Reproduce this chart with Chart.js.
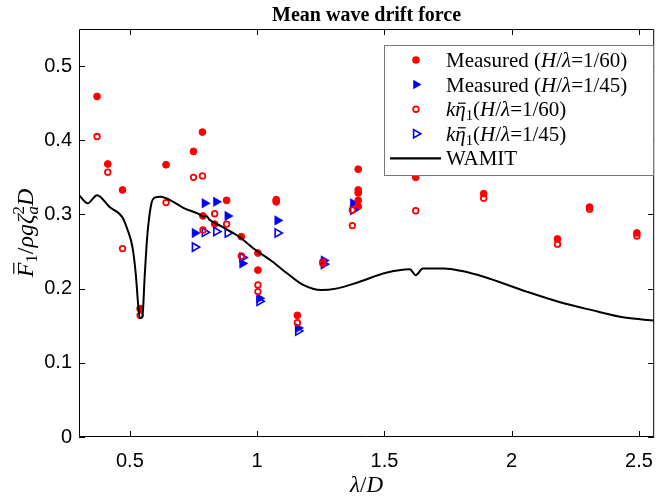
<!DOCTYPE html>
<html>
<head>
<meta charset="utf-8">
<script src="https://cdn.jsdelivr.net/npm/chart.js"></script>
<style>
  html, body { margin: 0; padding: 0; background: #fff; }
  #wrap { width: 665px; height: 500px; }
</style>
</head>
<body>
<div id="wrap"><canvas id="chart"></canvas></div>
<script>
// values
const xTicks = [0.5, 1, 1.5, 2, 2.5];
const yTicks = [0, 0.1, 0.2, 0.3, 0.4, 0.5];

// Measured, H/lambda = 1/60 (filled red circles)
const meas60X = [0.371, 0.413, 0.471, 0.540, 0.642, 0.750, 0.785, 0.787, 0.833, 0.880, 0.938, 1.003, 1.003, 1.075, 1.075, 1.158, 1.258, 1.397, 1.397, 1.397, 1.397, 1.397, 1.623, 1.890, 2.180, 2.306, 2.492];
const meas60Y = [0.459, 0.368, 0.333, 0.173, 0.367, 0.385, 0.411, 0.298, 0.287, 0.319, 0.270, 0.248, 0.225, 0.320, 0.317, 0.164, 0.236, 0.361, 0.333, 0.329, 0.319, 0.311, 0.350, 0.328, 0.267, 0.310, 0.275];

// Measured, H/lambda = 1/45 (filled blue triangles)
const meas45X = [0.755, 0.794, 0.839, 0.884, 0.942, 1.009, 1.080, 1.161, 1.262, 1.377];
const meas45Y = [0.275, 0.315, 0.317, 0.298, 0.234, 0.187, 0.292, 0.147, 0.238, 0.315];

// k*eta1, H/lambda = 1/60 (open red circles)
const eta60X = [0.371, 0.413, 0.471, 0.540, 0.642, 0.750, 0.785, 0.787, 0.833, 0.880, 0.938, 1.003, 1.003, 1.075, 1.158, 1.258, 1.374, 1.374, 1.623, 1.890, 2.180, 2.306, 2.492];
const eta60Y = [0.405, 0.357, 0.254, 0.164, 0.316, 0.350, 0.352, 0.279, 0.301, 0.287, 0.244, 0.205, 0.196, 0.318, 0.154, 0.234, 0.306, 0.285, 0.305, 0.322, 0.260, 0.307, 0.271];

// k*eta1, H/lambda = 1/45 (open blue triangles)
const eta45X = [0.755, 0.794, 0.839, 0.884, 0.942, 1.009, 1.080, 1.161, 1.262, 1.377];
const eta45Y = [0.256, 0.276, 0.277, 0.275, 0.242, 0.183, 0.275, 0.143, 0.233, 0.306];

// WAMIT curve
const wamitX = [0.30, 0.334, 0.371, 0.42, 0.471, 0.491, 0.510, 0.523, 0.533, 0.539, 0.549, 0.558, 0.568, 0.584, 0.600, 0.620, 0.671, 0.710, 0.768, 0.790, 0.800, 0.813, 0.865, 0.929, 0.994, 1.058, 1.116, 1.181, 1.252, 1.310, 1.400, 1.503, 1.600, 1.623, 1.651, 1.735, 1.800, 1.890, 2.058, 2.187, 2.315, 2.444, 2.56];
const wamitY = [0.326, 0.315, 0.326, 0.310, 0.296, 0.279, 0.256, 0.220, 0.176, 0.160, 0.162, 0.216, 0.270, 0.314, 0.323, 0.324, 0.317, 0.309, 0.301, 0.297, 0.298, 0.293, 0.283, 0.270, 0.252, 0.237, 0.221, 0.205, 0.198, 0.200, 0.209, 0.221, 0.226, 0.218, 0.227, 0.227, 0.224, 0.216, 0.196, 0.182, 0.171, 0.161, 0.157];

const pts = (xs, ys) => xs.map((x, i) => ({ x: x, y: ys[i] }));

const RED = '#ff0000';
const BLUE = '#0000ff';
const SERIF = '"Liberation Serif", "DejaVu Serif", serif';
const SANS = '"Liberation Sans", Arial, sans-serif';

// draw a run of text pieces (italic, scaled, shifted, overbar)
function richWidth(ctx, segs, size) {
  let w = 0;
  segs.forEach(s => {
    ctx.font = (s.i ? 'italic ' : '') + (size * (s.s || 1)) + 'px ' + SERIF;
    const sw = ctx.measureText(s.t).width;
    if (!s.noAdv) w += sw;
  });
  return w;
}
function drawRich(ctx, segs, x, y, size) {
  let cx = x;
  segs.forEach(s => {
    const sz = size * (s.s || 1);
    ctx.font = (s.i ? 'italic ' : '') + sz + 'px ' + SERIF;
    ctx.textAlign = 'left';
    ctx.textBaseline = 'alphabetic';
    const sw = ctx.measureText(s.t).width;
    ctx.fillText(s.t, cx, y + (s.dy || 0));
    if (s.bar) {
      const by = y - (s.barH || 0.72) * size;
      ctx.save();
      ctx.lineWidth = 1.2;
      ctx.beginPath();
      ctx.moveTo(cx + sw * 0.25, by);
      ctx.lineTo(cx + sw * 1.0, by);
      ctx.stroke();
      ctx.restore();
    }
    if (!s.noAdv) cx += sw;
  });
}

const frameAndText = {
  id: 'frameAndText',
  afterDraw(chart) {
    const ctx = chart.ctx;
    const a = chart.chartArea;
    const xs = chart.scales.x, ys = chart.scales.y;
    ctx.save();
    ctx.strokeStyle = '#000';
    ctx.fillStyle = '#000';
    ctx.lineWidth = 1;

    // box and inward ticks
    ctx.beginPath();
    ctx.rect(a.left + 0.5, a.top + 0.5, a.right - a.left - 1, a.bottom - a.top - 1);
    const tl = 6;
    xTicks.forEach(v => {
      const px = Math.round(xs.getPixelForValue(v)) + 0.5;
      ctx.moveTo(px, a.bottom); ctx.lineTo(px, a.bottom - tl);
      ctx.moveTo(px, a.top); ctx.lineTo(px, a.top + tl);
    });
    yTicks.forEach(v => {
      const py = Math.round(ys.getPixelForValue(v)) + 0.5;
      ctx.moveTo(a.left, py); ctx.lineTo(a.left + tl, py);
      ctx.moveTo(a.right, py); ctx.lineTo(a.right - tl, py);
    });
    ctx.stroke();

    // title
    ctx.font = 'bold 20px ' + SERIF;
    ctx.textAlign = 'center';
    ctx.textBaseline = 'alphabetic';
    ctx.fillText('Mean wave drift force', (a.left + a.right) / 2, 21);

    // x axis title
    const xl = [{ t: 'λ', i: true }, { t: '/' }, { t: 'D', i: true }];
    const xw = richWidth(ctx, xl, 23);
    drawRich(ctx, xl, (a.left + a.right) / 2 - xw / 2, 492, 23);

    // y axis title
    const yl = [
      { t: 'F', i: true, bar: true, barH: 0.8 },
      { t: '1', s: 0.7, dy: 4 },
      { t: '/' },
      { t: 'ρg', i: true },
      { t: 'ζ', i: true },
      { t: 'a', i: true, s: 0.7, dy: 5, noAdv: true },
      { t: '2', s: 0.7, dy: -9 },
      { t: 'D', i: true }
    ];
    const yw = richWidth(ctx, yl, 24);
    ctx.translate(33, (a.top + a.bottom) / 2);
    ctx.rotate(-Math.PI / 2);
    drawRich(ctx, yl, -yw / 2, 0, 24);
    ctx.restore();

    // legend
    ctx.save();
    const L = { x: 384, y: 45, w: 269, h: 130 };
    ctx.fillStyle = '#fff';
    ctx.fillRect(L.x, L.y, L.w, L.h);
    ctx.strokeStyle = '#777';
    ctx.lineWidth = 1;
    ctx.strokeRect(L.x + 0.5, L.y + 0.5, L.w, L.h);
    const ratio = (d) => [{ t: '(' }, { t: 'H', i: true }, { t: '/' }, { t: 'λ', i: true }, { t: '=1/' + d + ')' }];
    const keta = [{ t: 'k', i: true }, { t: 'η', i: true, bar: true, barH: 0.62 }, { t: '1', s: 0.7, dy: 4 }];
    const rows = [
      { kind: 'circleFill', segs: [{ t: 'Measured ' }].concat(ratio(60)) },
      { kind: 'triFill', segs: [{ t: 'Measured ' }].concat(ratio(45)) },
      { kind: 'circleOpen', segs: keta.concat(ratio(60)) },
      { kind: 'triOpen', segs: keta.concat(ratio(45)) },
      { kind: 'line', segs: [{ t: 'WAMIT' }] }
    ];
    const mx = 416, tx = 446;
    rows.forEach((r, i) => {
      const cy = 60 + i * 24.6;
      ctx.beginPath();
      if (r.kind === 'circleFill') {
        ctx.fillStyle = RED;
        ctx.arc(mx, cy, 3.8, 0, Math.PI * 2);
        ctx.fill();
      } else if (r.kind === 'circleOpen') {
        ctx.strokeStyle = RED; ctx.lineWidth = 1.8;
        ctx.arc(mx, cy, 2.8, 0, Math.PI * 2);
        ctx.stroke();
      } else if (r.kind === 'triFill' || r.kind === 'triOpen') {
        const rr = r.kind === 'triFill' ? 5.5 : 4.8;
        ctx.moveTo(mx + rr, cy);
        ctx.lineTo(mx - rr / 2, cy - rr * 0.866);
        ctx.lineTo(mx - rr / 2, cy + rr * 0.866);
        ctx.closePath();
        if (r.kind === 'triFill') { ctx.fillStyle = BLUE; ctx.fill(); }
        else { ctx.strokeStyle = BLUE; ctx.lineWidth = 1.6; ctx.stroke(); }
      } else {
        ctx.strokeStyle = '#000'; ctx.lineWidth = 2.2;
        ctx.moveTo(390, cy); ctx.lineTo(441, cy);
        ctx.stroke();
      }
      ctx.fillStyle = '#000';
      ctx.strokeStyle = '#000';
      drawRich(ctx, r.segs, tx, cy + 7, 21);
    });
    ctx.restore();
  }
};

new Chart(document.getElementById('chart'), {
  type: 'scatter',
  data: {
    datasets: [
      {
        label: 'WAMIT',
        data: pts(wamitX, wamitY),
        showLine: true,
        borderColor: '#000',
        borderWidth: 2,
        pointRadius: 0,
        cubicInterpolationMode: 'monotone',
        order: 0
      },
      {
        label: 'Measured (H/λ=1/60)',
        data: pts(meas60X, meas60Y),
        pointStyle: 'circle',
        pointRadius: 3.4,
        pointBorderWidth: 1,
        pointBackgroundColor: RED,
        pointBorderColor: RED,
        order: 2
      },
      {
        label: 'Measured (H/λ=1/45)',
        data: pts(meas45X, meas45Y),
        pointStyle: 'triangle',
        pointRotation: 90,
        pointRadius: 5.5,
        pointBorderWidth: 0.5,
        pointBackgroundColor: BLUE,
        pointBorderColor: BLUE,
        order: 2
      },
      {
        label: 'kη1(H/λ=1/60)',
        data: pts(eta60X, eta60Y),
        pointStyle: 'circle',
        pointRadius: 2.8,
        pointBorderWidth: 1.8,
        pointBackgroundColor: 'rgba(0,0,0,0)',
        pointBorderColor: RED,
        order: 1
      },
      {
        label: 'kη1(H/λ=1/45)',
        data: pts(eta45X, eta45Y),
        pointStyle: 'triangle',
        pointRotation: 90,
        pointRadius: 4.8,
        pointBorderWidth: 1.6,
        pointBackgroundColor: 'rgba(0,0,0,0)',
        pointBorderColor: BLUE,
        order: 1
      }
    ]
  },
  options: {
    responsive: true,
    maintainAspectRatio: false,
    animation: false,
    layout: { padding: { left: 0, right: 2, top: 29, bottom: 0 } },
    plugins: { legend: { display: false }, tooltip: { enabled: false } },
    scales: {
      x: {
        type: 'linear',
        min: 0.3,
        max: 2.56,
        afterBuildTicks: s => { s.ticks = xTicks.map(v => ({ value: v })); },
        afterFit: s => { s.height = 63; },
        grid: { display: false, drawTicks: false },
        border: { display: false },
        ticks: { color: '#000', font: { family: SANS, size: 20 }, padding: 12, maxRotation: 0, callback: v => String(v) }
      },
      y: {
        type: 'linear',
        min: 0,
        max: 0.55,
        afterBuildTicks: s => { s.ticks = yTicks.map(v => ({ value: v })); },
        afterFit: s => { s.width = 79; },
        grid: { display: false, drawTicks: false },
        border: { display: false },
        ticks: { color: '#000', font: { family: SANS, size: 20 }, padding: 7, callback: v => String(v) }
      }
    }
  },
  plugins: [frameAndText]
});
</script>
</body>
</html>
